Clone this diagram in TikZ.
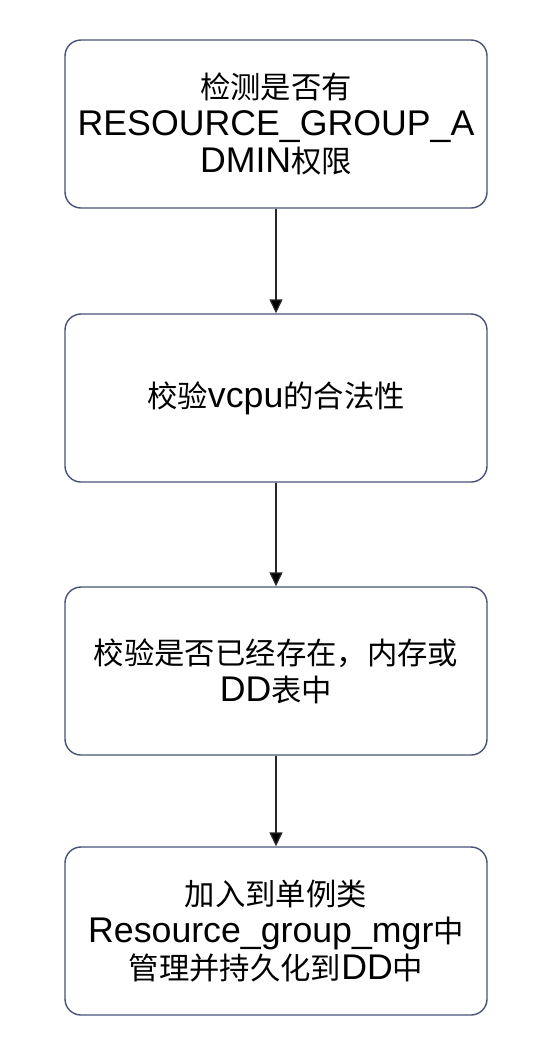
\documentclass[tikz,border=0pt]{standalone}
\usepackage{fontspec}
\setmainfont{Liberation Sans}
\newfontfamily\cjk[Scale=0.85]{Noto Sans CJK SC}
\usetikzlibrary{arrows.meta}
\definecolor{boxline}{RGB}{72,82,120}

\begin{document}
\begin{tikzpicture}[x=1pt, y=-1pt]
			\tikzstyle{box}=[rectangle, rounded corners=16pt, draw=boxline, line width=1.4pt, fill=white, minimum width=422pt, minimum height=168pt, inner sep=0pt, align=center, font=\fontsize{35.7}{37}\selectfont]
			\tikzstyle{flow}=[-{Triangle[length=14pt, width=13pt]}, line width=1.4pt, draw=black!85]
			\useasboundingbox (0,0) rectangle (553,1058);
			
			% Draw the steps
			\node[box] (checkpriv) at (276,124) {{\cjk 检测是否有}\\RESOURCE\_GROUP\_A\\DMIN{\cjk 权限}};
			\node[box] (checkvcpu) at (276,398) {{\cjk 校验}vcpu{\cjk 的合法性}};
			\node[box] (checkexist) at (276,671) {{\cjk 校验是否已经存在，内存或}\\DD{\cjk 表中}};
			\node[box] (addmgr) at (276,931) {{\cjk 加入到单例类}\\Resource\_group\_mgr{\cjk 中}\\{\cjk 管理并持久化到}DD{\cjk 中}};
			
			% Draw arrows
			\path[flow] (checkpriv) edge (checkvcpu);
			\path[flow] (checkvcpu) edge (checkexist);
			\path[flow] (checkexist) edge (addmgr);
			
		\end{tikzpicture}
\end{document}
